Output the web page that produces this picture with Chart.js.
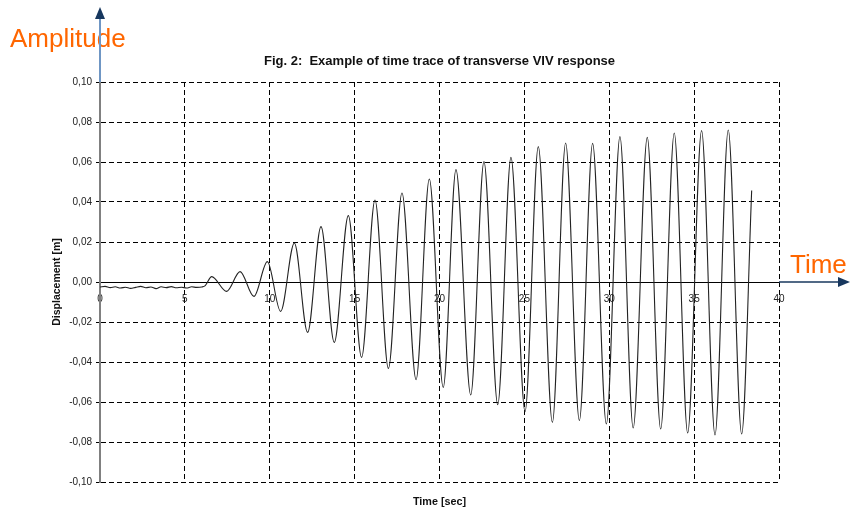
<!DOCTYPE html>
<html>
<head>
<meta charset="utf-8">
<title>Fig. 2 - VIV response</title>
<script src="https://cdn.jsdelivr.net/npm/chart.js@4/dist/chart.umd.min.js"></script>
<style>
  html, body { margin: 0; padding: 0; background: #fff; }
  #wrap { width: 850px; height: 512px; }
</style>
</head>
<body>
<div id="wrap"><canvas id="viv" width="850" height="512"></canvas></div>
<script>
// time trace: noise first, then peaks and troughs of the oscillation
const timeSec = [
    0.0, 0.3, 0.6, 0.9, 1.2, 1.5, 1.8, 2.1, 2.4, 2.7, 3.0, 3.3, 3.6, 3.9, 4.2, 4.5, 4.8, 5.1, 5.4, 5.7, 6.0, 6.2,
    6.58, 7.46, 8.25, 9.07, 9.86, 10.64, 11.45, 12.23, 13.02, 13.80, 14.63, 15.41, 16.20, 16.99, 17.79, 18.62,
    19.40, 20.22, 20.97, 21.84, 22.62, 23.43, 24.21, 25.04, 25.82, 26.65, 27.43, 28.24, 29.02, 29.83,
    30.63, 31.41, 32.24, 33.03, 33.83, 34.62, 35.44, 36.23, 37.01, 37.80, 38.39
];
const displacement = [
    -0.0025, -0.0022, -0.0028, -0.0024, -0.0030, -0.0026, -0.0032, -0.0027, -0.0022, -0.0029, -0.0025,
    -0.0033, -0.0024, -0.0028, -0.0023, -0.0029, -0.0026, -0.0030, -0.0024, -0.0027, -0.0025, -0.0018,
    0.0027, -0.0047, 0.0052, -0.0072, 0.0102, -0.0147, 0.0195, -0.0252, 0.0277, -0.0302, 0.0332, -0.0377,
    0.0410, -0.0432, 0.0445, -0.0488, 0.0515, -0.0527, 0.0562, -0.0565, 0.0602, -0.0613, 0.0623, -0.0648,
    0.0677, -0.0702, 0.0695, -0.0693, 0.0693, -0.0710, 0.0727, -0.0730, 0.0723, -0.0735, 0.0745, -0.0755,
    0.0757, -0.0765, 0.0760, -0.0760, 0.0457
];
const xTickValues = [0, 5, 10, 15, 20, 25, 30, 35, 40];
const yTickValues = [-0.10, -0.08, -0.06, -0.04, -0.02, 0.00, 0.02, 0.04, 0.06, 0.08, 0.10];

const FONT = "'Liberation Sans', Arial, sans-serif";
const ORANGE = '#ff6600';
const NAVY = '#17375e';

// decimal comma like the original spreadsheet
function commaLabel(v) {
    if (Math.abs(v) < 1e-9) return '0,00';
    return v.toFixed(2).replace('.', ',');
}

// axis title below the plot, orange captions and the two arrows
const extrasPlugin = {
    id: 'extras',
    afterDraw(chart) {
        const ctx = chart.ctx;
        const area = chart.chartArea;
        const zeroY = chart.scales.y.getPixelForValue(0);
        ctx.save();

        ctx.fillStyle = '#111';
        ctx.font = 'bold 10.8px ' + FONT;
        ctx.textAlign = 'center';
        ctx.textBaseline = 'middle';
        ctx.fillText('Time [sec]', (area.left + area.right) / 2, 502);

        ctx.fillStyle = ORANGE;
        ctx.font = '26px ' + FONT;
        ctx.textAlign = 'left';
        ctx.textBaseline = 'alphabetic';
        ctx.fillText('Amplitude', 10, 47);
        ctx.fillText('Time', 790, 273);

        // vertical arrow above the plot
        ctx.strokeStyle = '#6f96c4';
        ctx.lineWidth = 2;
        ctx.beginPath();
        ctx.moveTo(area.left, area.top);
        ctx.lineTo(area.left, 16);
        ctx.stroke();
        ctx.fillStyle = NAVY;
        ctx.beginPath();
        ctx.moveTo(area.left, 7);
        ctx.lineTo(area.left - 5, 19);
        ctx.lineTo(area.left + 5, 19);
        ctx.closePath();
        ctx.fill();

        // horizontal arrow right of the plot
        ctx.strokeStyle = NAVY;
        ctx.lineWidth = 1.5;
        ctx.beginPath();
        ctx.moveTo(area.right, zeroY);
        ctx.lineTo(841, zeroY);
        ctx.stroke();
        ctx.beginPath();
        ctx.moveTo(850, zeroY);
        ctx.lineTo(838, zeroY - 5);
        ctx.lineTo(838, zeroY + 5);
        ctx.closePath();
        ctx.fill();

        ctx.restore();
    }
};

function initChart() {
    const ctx = document.getElementById('viv').getContext('2d');
    const points = timeSec.map((t, i) => ({ x: t, y: displacement[i] }));

    new Chart(ctx, {
        type: 'line',
        data: {
            datasets: [{
                label: 'Displacement',
                data: points,
                borderColor: '#222',
                borderWidth: 1.1,
                pointRadius: 0,
                fill: false,
                cubicInterpolationMode: 'monotone'
            }]
        },
        options: {
            responsive: false,
            animation: false,
            layout: {
                padding: { top: 1, right: 71, bottom: 30, left: 0 }
            },
            plugins: {
                legend: { display: false },
                tooltip: { enabled: false },
                title: {
                    display: true,
                    fullSize: false,
                    text: 'Fig. 2:  Example of time trace of transverse VIV response',
                    color: '#111',
                    font: { family: FONT, size: 13, weight: 'bold' },
                    padding: { top: 53, bottom: 12.4 }
                }
            },
            scales: {
                x: {
                    type: 'linear',
                    position: { y: 0 },
                    min: 0,
                    max: 40,
                    afterBuildTicks: scale => {
                        scale.ticks = xTickValues.map(v => ({ value: v }));
                    },
                    ticks: {
                        color: '#222',
                        font: { family: FONT, size: 10 },
                        padding: 11,
                        maxRotation: 0,
                        autoSkip: false
                    },
                    grid: { color: '#000', lineWidth: 1, drawTicks: false },
                    border: { color: '#000', width: 1, dash: [5, 3] }
                },
                y: {
                    position: 'left',
                    min: -0.1,
                    max: 0.1,
                    afterBuildTicks: scale => {
                        scale.ticks = yTickValues.map(v => ({ value: v }));
                    },
                    afterFit: scale => {
                        scale.width = 100;
                    },
                    ticks: {
                        color: '#222',
                        font: { family: FONT, size: 10 },
                        padding: 4,
                        callback: v => commaLabel(v)
                    },
                    grid: { color: '#000', lineWidth: 1, drawTicks: true, tickLength: 4, tickColor: '#000' },
                    border: { color: '#808080', width: 2, dash: [5, 3] },
                    title: {
                        display: true,
                        text: 'Displacement [m]',
                        color: '#111',
                        font: { family: FONT, size: 10.5, weight: 'bold' },
                        padding: { top: 50.5, bottom: 0 }
                    }
                }
            }
        },
        plugins: [extrasPlugin]
    });
}

document.addEventListener('DOMContentLoaded', initChart);
</script>
</body>
</html>
